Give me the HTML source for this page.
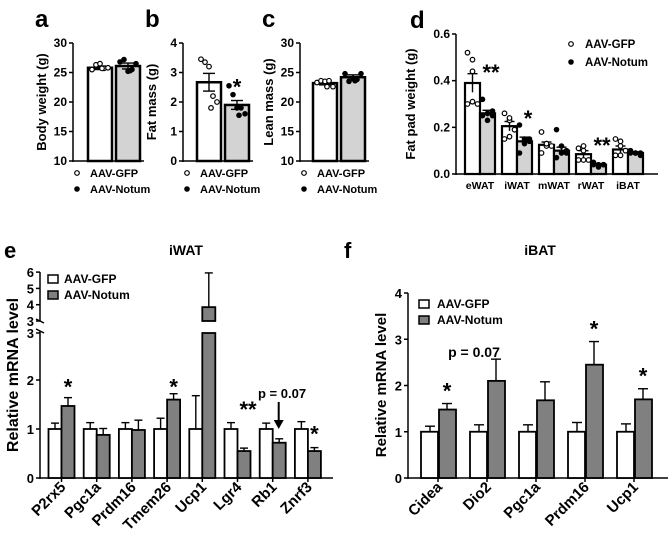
<!DOCTYPE html>
<html><head><meta charset="utf-8"><style>
body{margin:0;background:#fff}
svg{display:block;font-family:"Liberation Sans",Arial,sans-serif;font-weight:bold}
</style></head><body>
<svg id="s" width="668" height="550" viewBox="0 0 668 550" xmlns="http://www.w3.org/2000/svg"></svg>
<script>
// ---- data ----
const aGfp=[25.5,26.3,26.5,25.7,25.8,25.7], aNot=[26.8,27.2,25.2,25.5,26.5,25.3];
const aMean=[25.8,26.1], aErr=[0.3,0.5];
const bGfp=[3.45,3.35,3.2,2.2,2.0,1.8], bNot=[2.55,2.25,1.8,1.8,1.6,1.55];
const bMean=[2.67,1.9], bErr=[0.3,0.15];
const cGfp=[23.3,23.6,23.5,23.6,22.6,22.6], cNot=[24.8,23.5,24.0,23.8,24.8,23.6];
const cMean=[23.2,24.2], cErr=[0.3,0.4];
const dCats=["eWAT","iWAT","mWAT","rWAT","iBAT"];
const dGfpMean=[0.39,0.205,0.125,0.085,0.105], dGfpErr=[0.04,0.02,0.012,0.015,0.015];
const dNotMean=[0.26,0.14,0.10,0.04,0.09], dNotErr=[0.013,0.018,0.015,0.004,0.005];
const dGfpPts=[[0.52,0.49,0.44,0.30,0.31,0.30],[0.26,0.23,0.24,0.15,0.16,0.19],[0.18,0.13,0.12,0.09,0.13,0.12],[0.11,0.10,0.12,0.06,0.06,0.06],[0.15,0.14,0.12,0.08,0.08,0.10]];
const dNotPts=[[0.32,0.26,0.27,0.25,0.23,0.25],[0.21,0.15,0.15,0.09,0.13,0.14],[0.19,0.12,0.10,0.07,0.09,0.09],[0.05,0.04,0.04,0.04,0.03,0.04],[0.10,0.09,0.09,0.09,0.09,0.08]];
const eCats=["P2rx5","Pgc1a","Prdm16","Tmem26","Ucp1","Lgr4","Rb1","Znrf3"];
const eGfp=[1,1,1,1,1,1,1,1], eGfpErr=[0.12,0.13,0.13,0.22,0.68,0.13,0.12,0.15];
const eNot=[1.47,0.88,0.98,1.6,3.85,0.55,0.72,0.55], eNotErr=[0.17,0.13,0.2,0.12,2.1,0.06,0.08,0.07];
const eSig=["*","","","*","","**","","*"];
const eSigY=[1.7,0,0,1.7,0,1.25,0,0.75];
const fCats=["Cidea","Dio2","Pgc1a","Prdm16","Ucp1"];
const fGfp=[1,1,1,1,1], fGfpErr=[0.12,0.15,0.15,0.2,0.17];
const fNot=[1.48,2.1,1.68,2.45,1.7], fNotErr=[0.13,0.47,0.4,0.5,0.23];
const fSig=["*","","","*","*"];

const S=document.getElementById('s');const NS="http://www.w3.org/2000/svg";
function el(t,a,txt){const e=document.createElementNS(NS,t);for(const k in a)e.setAttribute(k,a[k]);if(txt!==undefined)e.textContent=txt;S.appendChild(e);return e;}
function line(x1,y1,x2,y2,w,nm){const e=el('line',{x1,y1,x2,y2,stroke:'#000','stroke-width':w||1.5});

return e;}
function text(x,y,s,sz,nm,extra){const a=Object.assign({x,y,'font-size':sz},extra||{});const e=el('text',a,s);

return e;}
function rect(x,y,w,h,fill,nm,sw){const e=el('rect',{x,y,width:w,height:h,fill,stroke:'#000','stroke-width':sw||2});

return e;}
function dot(x,y,open,nm){const e=el('circle',{cx:x,cy:y,r:open?2.3:2.2,fill:open?'#fff':'#000',stroke:'#000','stroke-width':1.2});

return e;}
function errbar(cx,yTop,yBase,cap,nm){line(cx,yBase,cx,yTop,1.4,nm);line(cx-cap,yTop,cx+cap,yTop,1.4,nm+'-cap');}
const offs=[-8,-4,0,4,8,0];

// ---- panels a,b,c ----
function small(ax,lab,ylab,ticks,min,max,mean,err,g,n,sig,barL){
 const y=v=>161-(v-min)/(max-min)*118;
 text(ax-38,27,lab,24,'panel-label-'+lab);
 line(ax,43,ax,162,1.5,'y-axis-'+lab);
 line(ax,161,barL+56,161,1.5,'x-axis-'+lab);
 ticks.forEach(t=>{line(ax-4,y(t),ax,y(t),1.5,'y-tick');text(ax-6,y(t)+4,String(t),12,'y-tick-label',{'text-anchor':'end'});});
 text(0,0,ylab,13,'y-axis-title-'+lab,{'text-anchor':'middle',transform:`translate(${ax-27},102) rotate(-90)`});
 const xs=[barL,barL+28];
 [0,1].forEach(i=>{rect(xs[i],y(mean[i]),24,161-y(mean[i]),i?'#d3d3d3':'#fff','bar-'+(i?'notum':'gfp'),2.5);
  errbar(xs[i]+12,y(mean[i]+err[i]),y(mean[i]-err[i]),6,'error-bar');line(xs[i]+6,y(mean[i]-err[i]),xs[i]+18,y(mean[i]-err[i]),1.4,'error-bar-low');});
 g.forEach((v,k)=>dot(barL+12+offs[k]+(k==5?2:0),y(v),true,'point-gfp'));
 n.forEach((v,k)=>dot(barL+40+offs[k]+(k==5?2:0),y(v),false,'point-notum'));
 if(sig)text(barL+40,y(mean[1]+err[1])-6,sig,22,'significance-star',{'text-anchor':'middle'});
 dot(ax+4,173,true,'legend-gfp-marker');text(ax+17,177,'AAV-GFP',11,'legend-gfp');
 dot(ax+4,189,false,'legend-notum-marker');text(ax+17,193,'AAV-Notum',11,'legend-notum');
}
small(73,'a','Body weight (g)',[10,15,20,25,30],10,30,aMean,aErr,aGfp,aNot,'',88);
small(183,'b','Fat mass (g)',[0,1,2,3,4],0,4,bMean,bErr,bGfp,bNot,'*',197);
small(300,'c','Lean mass (g)',[10,15,20,25,30],10,30,cMean,cErr,cGfp,cNot,'',313);

// ---- panel d ----
(function(){
 const ax=456,y=v=>174-v/0.6*140,cx=i=>480+i*37;
 text(410,28,'d',24,'panel-label-d');
 line(ax,34,ax,175,1.5,'y-axis-d');line(ax,174,658,174,1.5,'x-axis-d');
 [0,0.2,0.4,0.6].forEach(t=>{line(ax-4,y(t),ax,y(t),1.5,'y-tick');text(ax-6,y(t)+4,t.toFixed(1),12,'y-tick-label',{'text-anchor':'end'});});
 text(0,0,'Fat pad weight (g)',13,'y-axis-title-d',{'text-anchor':'middle',transform:`translate(415,104) rotate(-90)`});
 dCats.forEach((c,i)=>{
  rect(cx(i)-15,y(dGfpMean[i]),15,174-y(dGfpMean[i]),'#fff','bar-gfp-'+c,2.2);
  rect(cx(i),y(dNotMean[i]),15,174-y(dNotMean[i]),'#d3d3d3','bar-notum-'+c,2.2);
  errbar(cx(i)-7.5,y(dGfpMean[i]+dGfpErr[i]),y(dGfpMean[i]-dGfpErr[i]),5,'error-bar');
  errbar(cx(i)+7.5,y(dNotMean[i]+dNotErr[i]),y(dNotMean[i]-dNotErr[i]),5,'error-bar');
  dGfpPts[i].forEach((v,k)=>dot(cx(i)-7.5+[-5,0,0,-5,0,5][k],y(v),true,'point-gfp'));
  dNotPts[i].forEach((v,k)=>dot(cx(i)+7.5+[-5,0,5,-5,0,5][k],y(v),false,'point-notum'));
  text(cx(i),189,c,10.5,'x-tick-label',{'text-anchor':'middle'});
 });
 text(cx(0)+11,80,'**',22,'significance-eWAT',{'text-anchor':'middle'});
 text(cx(1)+11,126,'*',22,'significance-iWAT',{'text-anchor':'middle'});
 text(cx(3)+11,153,'**',22,'significance-rWAT',{'text-anchor':'middle'});
 dot(571,44,true,'legend-gfp-marker');text(585,48,'AAV-GFP',11.5,'legend-gfp');
 dot(571,62,false,'legend-notum-marker');text(585,66,'AAV-Notum',11.5,'legend-notum');
})();

// ---- panel e ----
(function(){
 const ax=40;
 const yl=v=>478-v*49, yu=v=>321-(v-3)*16.3;
 const y=v=>v<=3?yl(v):yu(v);
 text(4,258,'e',22,'panel-label-e');
 text(186,255,'iWAT',14,'chart-title-e',{'text-anchor':'middle'});
 line(ax,272,ax,321,1.5,'y-axis-upper');line(ax,331,ax,479,1.5,'y-axis-lower');
 line(ax-4,319,ax+4,323,1.5,'axis-break');line(ax-4,329,ax+4,333,1.5,'axis-break');
 line(ax,478,333,478,1.5,'x-axis-e');
 [0,1,2,3].forEach(t=>{const yy=t==3?333:yl(t);line(ax-4,yy,ax,yy,1.5,'y-tick');text(ax-6,yy+5,String(t),13,'y-tick-label',{'text-anchor':'end'});});
 [3,4,5,6].forEach(t=>{line(ax-4,yu(t),ax,yu(t),1.5,'y-tick');text(ax-6,yu(t)+5,String(t),13,'y-tick-label',{'text-anchor':'end'});});
 text(0,0,'Relative mRNA level',16,'y-axis-title-e',{'text-anchor':'middle',transform:`translate(18,375) rotate(-90)`});
 const cx=i=>61.5+i*35.2;
 eCats.forEach((c,i)=>{
  errbar(cx(i)-6.5,y(eGfp[i]+eGfpErr[i]),y(eGfp[i]),4,'error-bar');
  rect(cx(i)-13,y(eGfp[i]),13,478-y(eGfp[i]),'#fff','bar-gfp-'+c,1.8);
  errbar(cx(i)+6.5,y(eNot[i]+eNotErr[i]),y(eNot[i]),4,'error-bar');
  if(eNot[i]>3){rect(cx(i),yu(eNot[i]),13,yu(3)-yu(eNot[i]),'#808080','bar-notum-'+c+'-upper',1.8);
   rect(cx(i),333,13,145,'#808080','bar-notum-'+c,1.8);}
  else rect(cx(i),y(eNot[i]),13,478-y(eNot[i]),'#808080','bar-notum-'+c,1.8);
  line(cx(i),478,cx(i),482,1.5,'x-tick');
  text(0,0,c,15,'x-tick-label',{'text-anchor':'end',transform:`translate(${cx(i)+5},488) rotate(-45)`});
  if(eSig[i])text(cx(i)+6.5+(eSig[i]=='**'?4:0),yl(eSigY[i]),eSig[i],22,'significance-'+c,{'text-anchor':'middle'});
 });
 text(258,398,'p = 0.07',13,'p-value-annotation');
 line(cx(6)+6,402,cx(6)+6,422,2,'annotation-arrow');
 const p=el('path',{d:`M${cx(6)+1},420 L${cx(6)+11},420 L${cx(6)+6},429 Z`,fill:'#000'});
 
 rect(48,275,10,8,'#fff','legend-gfp-swatch',1.5);text(64,283,'AAV-GFP',12,'legend-gfp');
 rect(48,291,10,8,'#808080','legend-notum-swatch',1.5);text(64,299,'AAV-Notum',12,'legend-notum');
})();

// ---- panel f ----
(function(){
 const ax=408,y=v=>478-v*46.25;
 text(344,258,'f',22,'panel-label-f');
 text(540,255,'iBAT',14,'chart-title-f',{'text-anchor':'middle'});
 line(ax,293,ax,479,1.5,'y-axis-f');line(ax,478,668,478,1.5,'x-axis-f');
 [0,1,2,3,4].forEach(t=>{line(ax-4,y(t),ax,y(t),1.5,'y-tick');text(ax-6,y(t)+5,String(t),13,'y-tick-label',{'text-anchor':'end'});});
 text(0,0,'Relative mRNA level',15,'y-axis-title-f',{'text-anchor':'middle',transform:`translate(386,385) rotate(-90)`});
 const cx=i=>438+i*49;
 fCats.forEach((c,i)=>{
  errbar(cx(i)-8,y(fGfp[i]+fGfpErr[i]),y(fGfp[i]),5,'error-bar');
  rect(cx(i)-17,y(fGfp[i]),17,478-y(fGfp[i]),'#fff','bar-gfp-'+c,1.8);
  errbar(cx(i)+9,y(fNot[i]+fNotErr[i]),y(fNot[i]),5,'error-bar');
  rect(cx(i)+1,y(fNot[i]),17,478-y(fNot[i]),'#808080','bar-notum-'+c,1.8);
  line(cx(i),478,cx(i),482,1.5,'x-tick');
  text(0,0,c,15,'x-tick-label',{'text-anchor':'end',transform:`translate(${cx(i)+5},488) rotate(-45)`});
  if(fSig[i])text(cx(i)+9,y(fNot[i]+fNotErr[i])-5,fSig[i],22,'significance-'+c,{'text-anchor':'middle'});
 });
 text(474,357,'p = 0.07',14,'p-value-annotation',{'text-anchor':'middle'});
 rect(419,300,10,8,'#fff','legend-gfp-swatch',1.5);text(437,308,'AAV-GFP',12,'legend-gfp');
 rect(419,316,10,8,'#808080','legend-notum-swatch',1.5);text(437,324,'AAV-Notum',12,'legend-notum');
})();
</script>
</body></html>
